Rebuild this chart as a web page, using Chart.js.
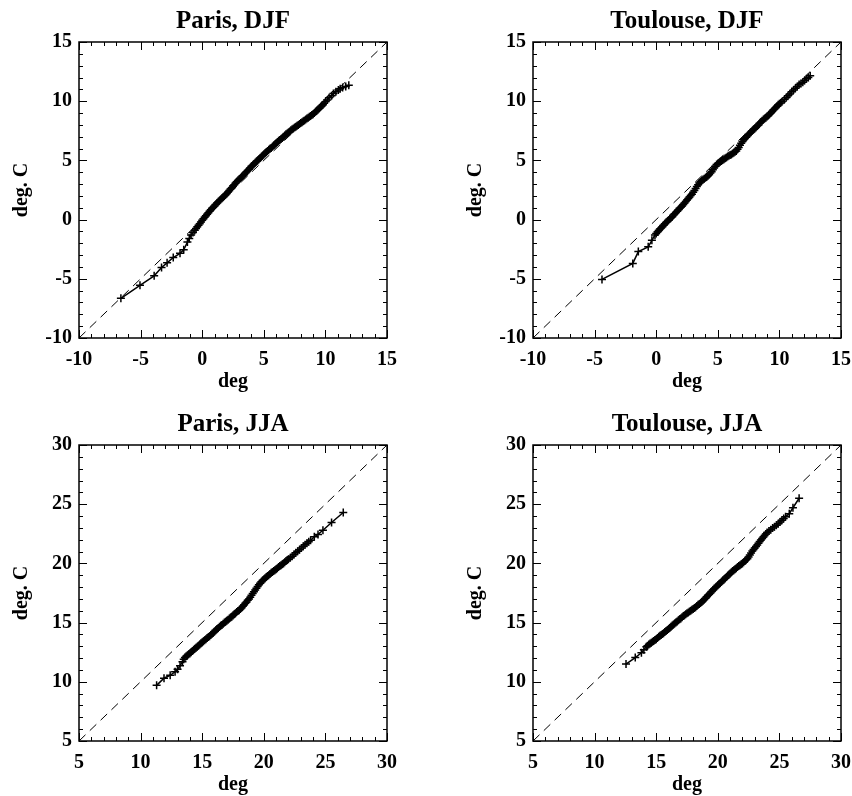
<!DOCTYPE html>
<html>
<head>
<meta charset="utf-8">
<script src="https://cdn.jsdelivr.net/npm/chart.js@4"></script>
<style>
  html, body { margin: 0; padding: 0; background: #fff; width: 852px; height: 796px; overflow: hidden; }
  canvas { position: absolute; }
</style>
</head>
<body>
<canvas id="p1" width="398" height="398" style="left:0;top:0"></canvas>
<canvas id="p2" width="398" height="398" style="left:454px;top:0"></canvas>
<canvas id="p3" width="398" height="398" style="left:0;top:403px"></canvas>
<canvas id="p4" width="398" height="398" style="left:454px;top:403px"></canvas>
<script>
// axis ranges and tick labels
const djfRange = [-10, 15];
const jjaRange = [5, 30];
const djfTicks = [-10, -5, 0, 5, 10, 15];
const jjaTicks = [5, 10, 15, 20, 25, 30];

// quantile pairs: [deg, deg. C]
const parisDjf = [
  [-6.6, -6.65], [-5.05, -5.55], [-3.9, -4.75], [-3.3, -4.05], [-2.85, -3.65], [-2.35, -3.2],
  [-1.8, -2.85], [-1.5, -2.55], [-1.2, -1.9], [-1.05, -1.6], [-0.9, -1.3], [-0.75, -1.1],
  [-0.6, -0.9], [-0.5, -0.75], [-0.4, -0.6], [-0.3, -0.48], [-0.2, -0.35], [-0.1, -0.2],
  [0.0, -0.05], [0.1, 0.08], [0.2, 0.2], [0.3, 0.33], [0.4, 0.45], [0.5, 0.58],
  [0.6, 0.7], [0.7, 0.83], [0.8, 0.95], [0.9, 1.05], [1.0, 1.15], [1.1, 1.28],
  [1.2, 1.4], [1.3, 1.5], [1.4, 1.6], [1.5, 1.7], [1.6, 1.8], [1.7, 1.9],
  [1.8, 2.0], [1.9, 2.1], [2.0, 2.2], [2.1, 2.33], [2.2, 2.45], [2.3, 2.58],
  [2.4, 2.7], [2.5, 2.83], [2.6, 2.95], [2.7, 3.08], [2.8, 3.2], [2.9, 3.3],
  [3.0, 3.4], [3.1, 3.5], [3.2, 3.6], [3.3, 3.7], [3.4, 3.8], [3.5, 3.93],
  [3.6, 4.05], [3.7, 4.15], [3.8, 4.25], [3.9, 4.38], [4.0, 4.5], [4.1, 4.6],
  [4.2, 4.7], [4.3, 4.8], [4.4, 4.9], [4.5, 5.0], [4.6, 5.1], [4.7, 5.2],
  [4.8, 5.3], [4.9, 5.4], [5.0, 5.5], [5.1, 5.6], [5.2, 5.7], [5.3, 5.8],
  [5.4, 5.9], [5.5, 5.98], [5.6, 6.05], [5.7, 6.15], [5.8, 6.25], [5.9, 6.35],
  [6.0, 6.45], [6.1, 6.55], [6.2, 6.65], [6.3, 6.73], [6.4, 6.8], [6.5, 6.9],
  [6.6, 7.0], [6.7, 7.1], [6.8, 7.2], [6.9, 7.28], [7.0, 7.35], [7.1, 7.45],
  [7.2, 7.55], [7.3, 7.63], [7.4, 7.7], [7.5, 7.78], [7.6, 7.85], [7.7, 7.93],
  [7.8, 8.0], [7.9, 8.08], [8.0, 8.15], [8.1, 8.23], [8.2, 8.3], [8.3, 8.38],
  [8.4, 8.45], [8.5, 8.53], [8.6, 8.6], [8.7, 8.68], [8.8, 8.75], [8.9, 8.83],
  [9.0, 8.9], [9.1, 9.0], [9.2, 9.1], [9.3, 9.2], [9.4, 9.3], [9.5, 9.4],
  [9.6, 9.5], [9.7, 9.6], [9.8, 9.7], [9.9, 9.83], [10.0, 9.95], [10.15, 10.1],
  [10.3, 10.3], [10.5, 10.45], [10.65, 10.65], [10.85, 10.8], [11.05, 10.95], [11.2, 11.05],
  [11.4, 11.15], [11.65, 11.25], [11.9, 11.35]
];

const toulouseDjf = [
  [-4.4, -5.05], [-1.9, -3.7], [-1.45, -2.7], [-0.65, -2.3], [-0.35, -1.75], [-0.1, -1.3],
  [0.0, -1.18], [0.1, -1.05], [0.2, -0.93], [0.3, -0.8], [0.4, -0.7], [0.5, -0.6],
  [0.6, -0.48], [0.7, -0.35], [0.8, -0.25], [0.9, -0.15], [1.0, -0.05], [1.1, 0.05],
  [1.2, 0.15], [1.3, 0.25], [1.4, 0.38], [1.5, 0.5], [1.6, 0.6], [1.7, 0.7],
  [1.8, 0.83], [1.9, 0.95], [2.0, 1.05], [2.1, 1.15], [2.2, 1.28], [2.3, 1.4],
  [2.4, 1.53], [2.5, 1.65], [2.6, 1.78], [2.7, 1.9], [2.8, 2.03], [2.9, 2.15],
  [3.0, 2.3], [3.1, 2.45], [3.2, 2.63], [3.3, 2.8], [3.4, 2.95], [3.5, 3.1],
  [3.6, 3.2], [3.7, 3.3], [3.8, 3.38], [3.9, 3.45], [4.0, 3.53], [4.1, 3.6],
  [4.2, 3.7], [4.3, 3.8], [4.4, 3.93], [4.5, 4.05], [4.6, 4.2], [4.7, 4.35],
  [4.8, 4.5], [4.9, 4.65], [5.0, 4.73], [5.1, 4.8], [5.2, 4.88], [5.3, 4.95],
  [5.4, 5.03], [5.5, 5.1], [5.6, 5.18], [5.7, 5.25], [5.8, 5.33], [5.9, 5.4],
  [6.0, 5.45], [6.1, 5.5], [6.2, 5.58], [6.3, 5.65], [6.4, 5.73], [6.5, 5.8],
  [6.6, 5.95], [6.7, 6.1], [6.8, 6.28], [6.9, 6.45], [7.0, 6.6], [7.1, 6.75],
  [7.2, 6.85], [7.3, 6.95], [7.4, 7.08], [7.5, 7.2], [7.6, 7.3], [7.7, 7.4],
  [7.8, 7.5], [7.9, 7.6], [8.0, 7.7], [8.1, 7.8], [8.2, 7.9], [8.3, 8.0],
  [8.4, 8.13], [8.5, 8.25], [8.6, 8.35], [8.7, 8.45], [8.8, 8.53], [8.9, 8.6],
  [9.0, 8.7], [9.1, 8.8], [9.2, 8.9], [9.3, 9.0], [9.4, 9.13], [9.5, 9.25],
  [9.6, 9.35], [9.7, 9.45], [9.8, 9.58], [9.9, 9.7], [10.0, 9.78], [10.1, 9.85],
  [10.2, 9.95], [10.4, 10.15], [10.55, 10.3], [10.7, 10.45], [10.85, 10.6], [11.0, 10.8],
  [11.15, 10.95], [11.3, 11.1], [11.45, 11.25], [11.6, 11.4], [11.75, 11.5], [11.9, 11.6],
  [12.05, 11.75], [12.2, 11.9], [12.35, 12.0], [12.5, 12.15]
];

const parisJja = [
  [11.3, 9.7], [11.9, 10.3], [12.4, 10.55], [12.8, 10.85], [13.0, 11.05], [13.2, 11.35],
  [13.4, 11.7], [13.5, 11.9], [13.6, 12.05], [13.7, 12.15], [13.8, 12.25], [13.9, 12.33],
  [14.0, 12.4], [14.1, 12.5], [14.2, 12.6], [14.3, 12.7], [14.4, 12.8], [14.5, 12.88],
  [14.6, 12.95], [14.7, 13.05], [14.8, 13.15], [14.9, 13.25], [15.0, 13.35], [15.1, 13.43],
  [15.2, 13.5], [15.3, 13.6], [15.4, 13.7], [15.5, 13.78], [15.6, 13.85], [15.7, 13.95],
  [15.8, 14.05], [15.9, 14.15], [16.0, 14.25], [16.1, 14.35], [16.2, 14.45], [16.3, 14.55],
  [16.4, 14.65], [16.5, 14.73], [16.6, 14.8], [16.7, 14.9], [16.8, 15.0], [16.9, 15.08],
  [17.0, 15.15], [17.1, 15.25], [17.2, 15.35], [17.3, 15.43], [17.4, 15.5], [17.5, 15.6],
  [17.6, 15.7], [17.7, 15.8], [17.8, 15.9], [17.9, 15.98], [18.0, 16.05], [18.1, 16.15],
  [18.2, 16.25], [18.3, 16.38], [18.4, 16.5], [18.5, 16.63], [18.6, 16.75], [18.7, 16.88],
  [18.8, 17.0], [18.9, 17.15], [19.0, 17.3], [19.1, 17.45], [19.2, 17.6], [19.3, 17.75],
  [19.4, 17.9], [19.5, 18.05], [19.6, 18.2], [19.7, 18.33], [19.8, 18.45], [19.9, 18.55],
  [20.0, 18.65], [20.1, 18.75], [20.2, 18.85], [20.3, 18.93], [20.4, 19.0], [20.5, 19.1],
  [20.6, 19.2], [20.7, 19.28], [20.8, 19.35], [20.9, 19.43], [21.0, 19.5], [21.1, 19.6],
  [21.2, 19.7], [21.3, 19.78], [21.4, 19.85], [21.5, 19.93], [21.6, 20.0], [21.7, 20.1],
  [21.8, 20.2], [21.9, 20.28], [22.0, 20.35], [22.15, 20.48], [22.3, 20.6], [22.45, 20.75],
  [22.6, 20.9], [22.75, 21.03], [22.9, 21.15], [23.05, 21.3], [23.2, 21.45], [23.35, 21.58],
  [23.5, 21.7], [23.65, 21.83], [23.8, 21.95], [24.1, 22.25], [24.4, 22.45], [24.8, 22.8],
  [25.5, 23.45], [26.45, 24.3]
];

const toulouseJja = [
  [12.55, 11.5], [13.3, 12.05], [13.8, 12.45], [14.0, 12.7], [14.2, 12.95], [14.3, 13.05],
  [14.4, 13.15], [14.5, 13.23], [14.6, 13.3], [14.7, 13.38], [14.8, 13.45], [14.9, 13.53],
  [15.0, 13.6], [15.1, 13.7], [15.2, 13.8], [15.3, 13.88], [15.4, 13.95], [15.5, 14.03],
  [15.6, 14.1], [15.7, 14.2], [15.8, 14.3], [15.9, 14.38], [16.0, 14.45], [16.1, 14.55],
  [16.2, 14.65], [16.3, 14.75], [16.4, 14.85], [16.5, 14.93], [16.6, 15.0], [16.7, 15.1],
  [16.8, 15.2], [16.9, 15.28], [17.0, 15.35], [17.1, 15.45], [17.2, 15.55], [17.3, 15.63],
  [17.4, 15.7], [17.5, 15.78], [17.6, 15.85], [17.7, 15.93], [17.8, 16.0], [17.9, 16.08],
  [18.0, 16.15], [18.1, 16.23], [18.2, 16.3], [18.3, 16.4], [18.4, 16.5], [18.5, 16.58],
  [18.6, 16.65], [18.7, 16.75], [18.8, 16.85], [18.9, 16.95], [19.0, 17.05], [19.1, 17.18],
  [19.2, 17.3], [19.3, 17.4], [19.4, 17.5], [19.5, 17.63], [19.6, 17.75], [19.7, 17.85],
  [19.8, 17.95], [19.9, 18.05], [20.0, 18.15], [20.1, 18.25], [20.2, 18.35], [20.3, 18.45],
  [20.4, 18.55], [20.5, 18.65], [20.6, 18.75], [20.7, 18.85], [20.8, 18.95], [20.9, 19.05],
  [21.0, 19.15], [21.1, 19.25], [21.2, 19.35], [21.3, 19.43], [21.4, 19.5], [21.5, 19.6],
  [21.6, 19.7], [21.7, 19.78], [21.8, 19.85], [21.9, 19.93], [22.0, 20.0], [22.1, 20.1],
  [22.2, 20.2], [22.3, 20.3], [22.4, 20.4], [22.5, 20.55], [22.6, 20.7], [22.7, 20.88],
  [22.8, 21.05], [22.9, 21.18], [23.0, 21.3], [23.1, 21.43], [23.2, 21.55], [23.3, 21.7],
  [23.4, 21.85], [23.5, 21.98], [23.6, 22.1], [23.7, 22.23], [23.8, 22.35], [23.9, 22.48],
  [24.0, 22.6], [24.15, 22.73], [24.3, 22.85], [24.45, 22.98], [24.6, 23.1], [24.75, 23.23],
  [24.9, 23.35], [25.05, 23.5], [25.2, 23.65], [25.35, 23.8], [25.5, 23.95], [25.8, 24.2],
  [26.1, 24.7], [26.6, 25.5]
];

const serif = 'Liberation Serif';

// inward tick marks on all four sides plus the box
const frameTicks = {
  id: 'frameTicks',
  afterDraw(chart) {
    const { ctx, chartArea: a, scales: { x, y } } = chart;
    ctx.save();
    ctx.strokeStyle = '#000';
    ctx.lineWidth = 1;
    ctx.beginPath();
    for (let v = Math.ceil(x.min); v <= x.max; v++) {
      const px = Math.round(x.getPixelForValue(v)) + 0.5;
      const len = v % 5 === 0 ? 8 : 4;
      ctx.moveTo(px, a.bottom); ctx.lineTo(px, a.bottom - len);
      ctx.moveTo(px, a.top); ctx.lineTo(px, a.top + len);
    }
    for (let v = Math.ceil(y.min); v <= y.max; v++) {
      const py = Math.round(y.getPixelForValue(v)) + 0.5;
      const len = v % 5 === 0 ? 8 : 4;
      ctx.moveTo(a.left, py); ctx.lineTo(a.left + len, py);
      ctx.moveTo(a.right, py); ctx.lineTo(a.right - len, py);
    }
    ctx.stroke();
    ctx.lineWidth = 1.5;
    ctx.strokeRect(a.left, a.top, a.right - a.left, a.bottom - a.top);
    ctx.restore();
  }
};

function panel(id, title, pairs, range, ticks) {
  const pts = pairs.map(p => ({ x: p[0], y: p[1] }));
  const axis = (isX) => ({
    type: 'linear',
    min: range[0],
    max: range[1],
    afterBuildTicks: s => { s.ticks = ticks.map(v => ({ value: v })); },
    afterFit: s => {
      if (isX) { s.height = 56; s.paddingLeft = 0; s.paddingRight = 0; }
      else { s.width = 79; s.paddingTop = 0; s.paddingBottom = 0; }
    },
    grid: { display: false, drawTicks: false },
    border: { display: false },
    ticks: {
      color: '#000',
      padding: isX ? 10 : 7,
      maxRotation: 0,
      font: { family: serif, weight: 'bold', size: 20 }
    },
    title: {
      display: true,
      text: isX ? 'deg' : 'deg. C',
      color: '#000',
      padding: isX ? { top: 0, bottom: 0 } : { top: 9.5, bottom: 0 },
      font: { family: serif, weight: 'bold', size: 20, lineHeight: 1.2 }
    }
  });
  new Chart(document.getElementById(id), {
    type: 'scatter',
    data: {
      datasets: [
        {
          data: [{ x: range[0], y: range[0] }, { x: range[1], y: range[1] }],
          showLine: true,
          borderColor: '#000',
          borderWidth: 1,
          borderDash: [9, 6],
          pointRadius: 0
        },
        {
          data: pts,
          showLine: true,
          borderColor: '#000',
          borderWidth: 1.5,
          pointStyle: 'cross',
          pointRadius: 4,
          pointBorderWidth: 1.5,
          pointBorderColor: '#000'
        }
      ]
    },
    options: {
      responsive: false,
      animation: false,
      layout: { padding: { left: 0, right: 11, top: 0, bottom: 4 } },
      plugins: {
        legend: { display: false },
        tooltip: { enabled: false },
        title: {
          display: true,
          text: title,
          color: '#000',
          fullSize: false,
          padding: { top: 6.5, bottom: 5.5 },
          font: { family: serif, weight: 'bold', size: 25, lineHeight: 1.2 }
        }
      },
      scales: { x: axis(true), y: axis(false) }
    },
    plugins: [frameTicks]
  });
}

panel('p1', 'Paris, DJF', parisDjf, djfRange, djfTicks);
panel('p2', 'Toulouse, DJF', toulouseDjf, djfRange, djfTicks);
panel('p3', 'Paris, JJA', parisJja, jjaRange, jjaTicks);
panel('p4', 'Toulouse, JJA', toulouseJja, jjaRange, jjaTicks);
</script>
</body>
</html>
